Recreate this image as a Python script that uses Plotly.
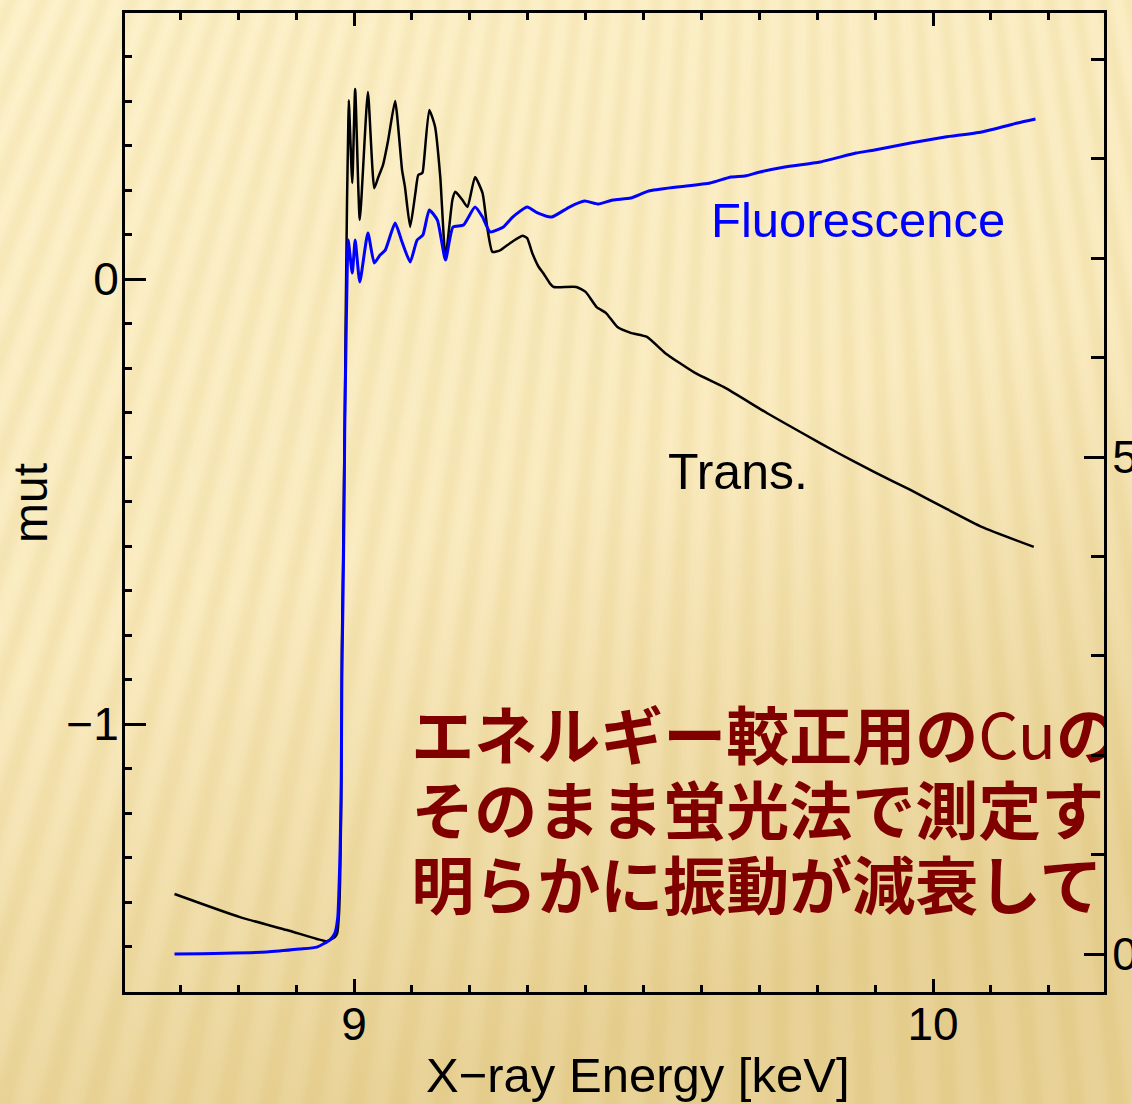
import math
import base64
import plotly.graph_objects as go

# ---------------- data ----------------
trans_energy = [8.690, 8.803, 8.884, 8.936, 8.953, 8.967, 8.971, 8.974, 8.976, 8.978,
                8.979, 8.981, 8.983, 8.984, 8.986, 8.988, 8.990, 8.991, 8.997, 9.002,
                9.010, 9.024, 9.035, 9.042, 9.050, 9.059, 9.071, 9.083, 9.088, 9.097,
                9.106, 9.111, 9.118, 9.121, 9.130, 9.140, 9.149, 9.158, 9.170, 9.175,
                9.187, 9.196, 9.209, 9.222, 9.230, 9.239, 9.253, 9.270, 9.291, 9.299,
                9.308, 9.319, 9.327, 9.339, 9.345, 9.384, 9.400, 9.419, 9.435, 9.455,
                9.478, 9.506, 9.537, 9.589, 9.639, 9.713, 9.774, 9.836, 9.899, 9.961,
                10.021, 10.084, 10.174]
trans_mu = [-1.382, -1.434, -1.463, -1.483, -1.488, -1.479, -1.470, -1.429, -1.351, -1.171,
            -0.834, -0.647, -0.429, -0.317, -0.047, 0.178, 0.335, 0.402, 0.216, 0.427,
            0.133, 0.420, 0.204, 0.229, 0.256, 0.312, 0.400, 0.245, 0.207, 0.117,
            0.193, 0.234, 0.238, 0.267, 0.380, 0.342, 0.229, 0.049, 0.178, 0.196,
            0.178, 0.162, 0.229, 0.193, 0.117, 0.061, 0.065, 0.081, 0.097, 0.092,
            0.058, 0.027, 0.013, -0.011, -0.018, -0.018, -0.029, -0.063, -0.076, -0.108,
            -0.121, -0.130, -0.166, -0.211, -0.243, -0.301, -0.346, -0.391, -0.434, -0.474,
            -0.515, -0.557, -0.602]

fluo_energy = [8.690, 8.849, 8.906, 8.936, 8.958, 8.967, 8.972, 8.974, 8.976, 8.978,
               8.979, 8.981, 8.983, 8.984, 8.986, 8.988, 8.990, 8.997, 9.002, 9.010,
               9.024, 9.035, 9.045, 9.054, 9.071, 9.083, 9.097, 9.109, 9.119, 9.130,
               9.144, 9.158, 9.171, 9.189, 9.209, 9.222, 9.235, 9.258, 9.274, 9.299,
               9.317, 9.341, 9.372, 9.398, 9.422, 9.447, 9.478, 9.509, 9.557, 9.615,
               9.651, 9.675, 9.701, 9.744, 9.805, 9.867, 9.899, 9.961, 10.021, 10.084,
               10.146, 10.177]
fluo_mu = [0.0, 0.020, 0.050, 0.070, 0.141, 0.211, 0.372, 0.644, 1.046, 1.750,
           2.757, 3.561, 4.567, 5.272, 6.076, 6.781, 7.183, 6.851, 7.183, 6.761,
           7.254, 6.952, 7.032, 7.082, 7.354, 7.163, 6.962, 7.183, 7.233, 7.485,
           7.384, 6.982, 7.314, 7.334, 7.515, 7.414, 7.264, 7.314, 7.414, 7.515,
           7.455, 7.414, 7.515, 7.575, 7.545, 7.586, 7.606, 7.676, 7.716, 7.757,
           7.817, 7.827, 7.867, 7.918, 7.968, 8.058, 8.089, 8.159, 8.219, 8.270,
           8.360, 8.400]

x_ticks = [9, 10]
x_ticktext = ["9", "10"]
y_ticks = [-1, 0]
y_ticktext = ["\u22121", "0"]
y2_ticks = [0, 5]
y2_ticktext = ["0", "5"]

note_lines = [
    "<b>エネルギー較正用の</b>Cu<b>の箔</b>",
    "<b>そのまま蛍光法で測定すると</b>",
    "<b>明らかに振動が減衰してい</b>",
]

# ---------------- background (sunray slide theme) ----------------
W, H = 1132, 1104
SX, SY = 800, -1800
R = 4500
a0, a1 = math.radians(-28), math.radians(14)
period = 0.0145
parts = []
a = a0
while a < a1:
    b = a + period * 0.45
    p1 = (SX + R * math.sin(a), SY + R * math.cos(a))
    p2 = (SX + R * math.sin(b), SY + R * math.cos(b))
    parts.append(f"M{SX},{SY}L{p1[0]:.1f},{p1[1]:.1f}L{p2[0]:.1f},{p2[1]:.1f}Z")
    a += period
svg = (
    f'<svg xmlns="http://www.w3.org/2000/svg" width="{W}" height="{H}" viewBox="0 0 {W} {H}">'
    '<defs><linearGradient id="g" x1="0" y1="0" x2="0.35" y2="1">'
    '<stop offset="0" stop-color="#FDF2CB"/><stop offset="0.55" stop-color="#FAEBC0"/>'
    '<stop offset="1" stop-color="#E8D297"/></linearGradient>'
    '<filter id="bl" x="-1" y="-1" width="3" height="3"><feGaussianBlur stdDeviation="3.5"/></filter></defs>'
    f'<rect width="{W}" height="{H}" fill="url(#g)"/>'
    f'<path d="{"".join(parts)}" fill="#B88A28" fill-opacity="0.08" filter="url(#bl)"/>'
    '</svg>'
)
bg_src = "data:image/svg+xml;base64," + base64.b64encode(svg.encode("utf-8")).decode()

ML, MR, MT, MB = 125, 28, 13, 112
PW = W - ML - MR
PH = H - MT - MB

fig = go.Figure()

fig.add_trace(go.Scatter(
    x=trans_energy, y=trans_mu, mode="lines",
    line=dict(color="black", width=2.5, shape="spline", smoothing=0.5),
    yaxis="y", showlegend=False,
))

# Japanese note, clipped to plot area like the reference
fig.add_trace(go.Scatter(
    x=[9.099, 9.099, 9.099], y=[-1.043, -1.212, -1.381],
    mode="text", text=note_lines, textposition="middle right",
    textfont=dict(family="Noto Sans CJK JP", size=63, color="#800000"),
    cliponaxis=True, showlegend=False, hoverinfo="skip", yaxis="y",
))

fig.add_trace(go.Scatter(
    x=fluo_energy, y=fluo_mu, mode="lines",
    line=dict(color="#0000FF", width=3, shape="spline", smoothing=0.5),
    yaxis="y2", showlegend=False,
))

tickfont = dict(family="Liberation Sans", size=46, color="black")

fig.update_layout(
    width=W, height=H,
    margin=dict(l=ML, r=MR, t=MT, b=MB, pad=0, autoexpand=False),
    paper_bgcolor="#F8E9BC",
    plot_bgcolor="rgba(0,0,0,0)",
    xaxis=dict(
        range=[8.6045, 10.2953], tickmode="array", tickvals=x_ticks, ticktext=x_ticktext,
        ticks="inside", ticklen=13, tickwidth=3, tickcolor="black",
        showline=True, linewidth=3, linecolor="black", mirror="ticks",
        showgrid=False, zeroline=False, tickfont=tickfont, ticklabelstandoff=-10,
        automargin=False,
        minor=dict(tickmode="linear", tick0=0, dtick=0.1, ticks="inside", ticklen=7,
                   tickwidth=3, tickcolor="black", showgrid=False),
    ),
    yaxis=dict(
        range=[-1.6022, 0.5978], tickmode="array", tickvals=y_ticks, ticktext=y_ticktext,
        ticks="inside", ticklen=21, tickwidth=3, tickcolor="black",
        showline=True, linewidth=3, linecolor="black", mirror=False,
        showgrid=False, zeroline=False, tickfont=tickfont, ticklabelstandoff=-6,
        automargin=False,
        minor=dict(tickmode="linear", tick0=0, dtick=0.1, ticks="inside", ticklen=7,
                   tickwidth=3, tickcolor="black", showgrid=False),
    ),
    yaxis2=dict(
        overlaying="y", side="right",
        range=[-0.382, 9.467], tickmode="array", tickvals=y2_ticks, ticktext=y2_ticktext,
        ticks="inside", ticklen=20, tickwidth=3, tickcolor="black",
        showline=True, linewidth=3, linecolor="black",
        showgrid=False, zeroline=False, tickfont=tickfont, ticklabelstandoff=-4,
        automargin=False,
        minor=dict(tickmode="linear", tick0=0, dtick=1, ticks="inside", ticklen=13,
                   tickwidth=3, tickcolor="black", showgrid=False),
    ),
    annotations=[
        dict(text="Fluorescence", x=9.6128, y=0.1326, xref="x", yref="y",
             xanchor="left", yanchor="middle", showarrow=False,
             font=dict(family="Liberation Sans", size=49, color="#0000FF")),
        dict(text="Trans.", x=9.5384, y=-0.4337, xref="x", yref="y",
             xanchor="left", yanchor="middle", showarrow=False,
             font=dict(family="Liberation Sans", size=50, color="black")),
        dict(text="X\u2212ray Energy [keV]", x=(638 - ML) / PW, y=-(1075 - (MT + PH)) / PH,
             xref="paper", yref="paper", xanchor="center", yanchor="middle", showarrow=False,
             font=dict(family="Liberation Sans", size=49, color="black")),
        dict(text="mut", x=(30 - ML) / PW, y=(MT + PH - 503) / PH, xref="paper", yref="paper",
             xanchor="center", yanchor="middle", showarrow=False, textangle=-90,
             font=dict(family="Liberation Sans", size=48, color="black")),
    ],
    images=[dict(
        source=bg_src, xref="paper", yref="paper",
        x=-ML / PW, y=1 + MT / PH, sizex=W / PW, sizey=H / PH,
        xanchor="left", yanchor="top", sizing="stretch", layer="below",
    )],
)

fig.write_html("out.html")
